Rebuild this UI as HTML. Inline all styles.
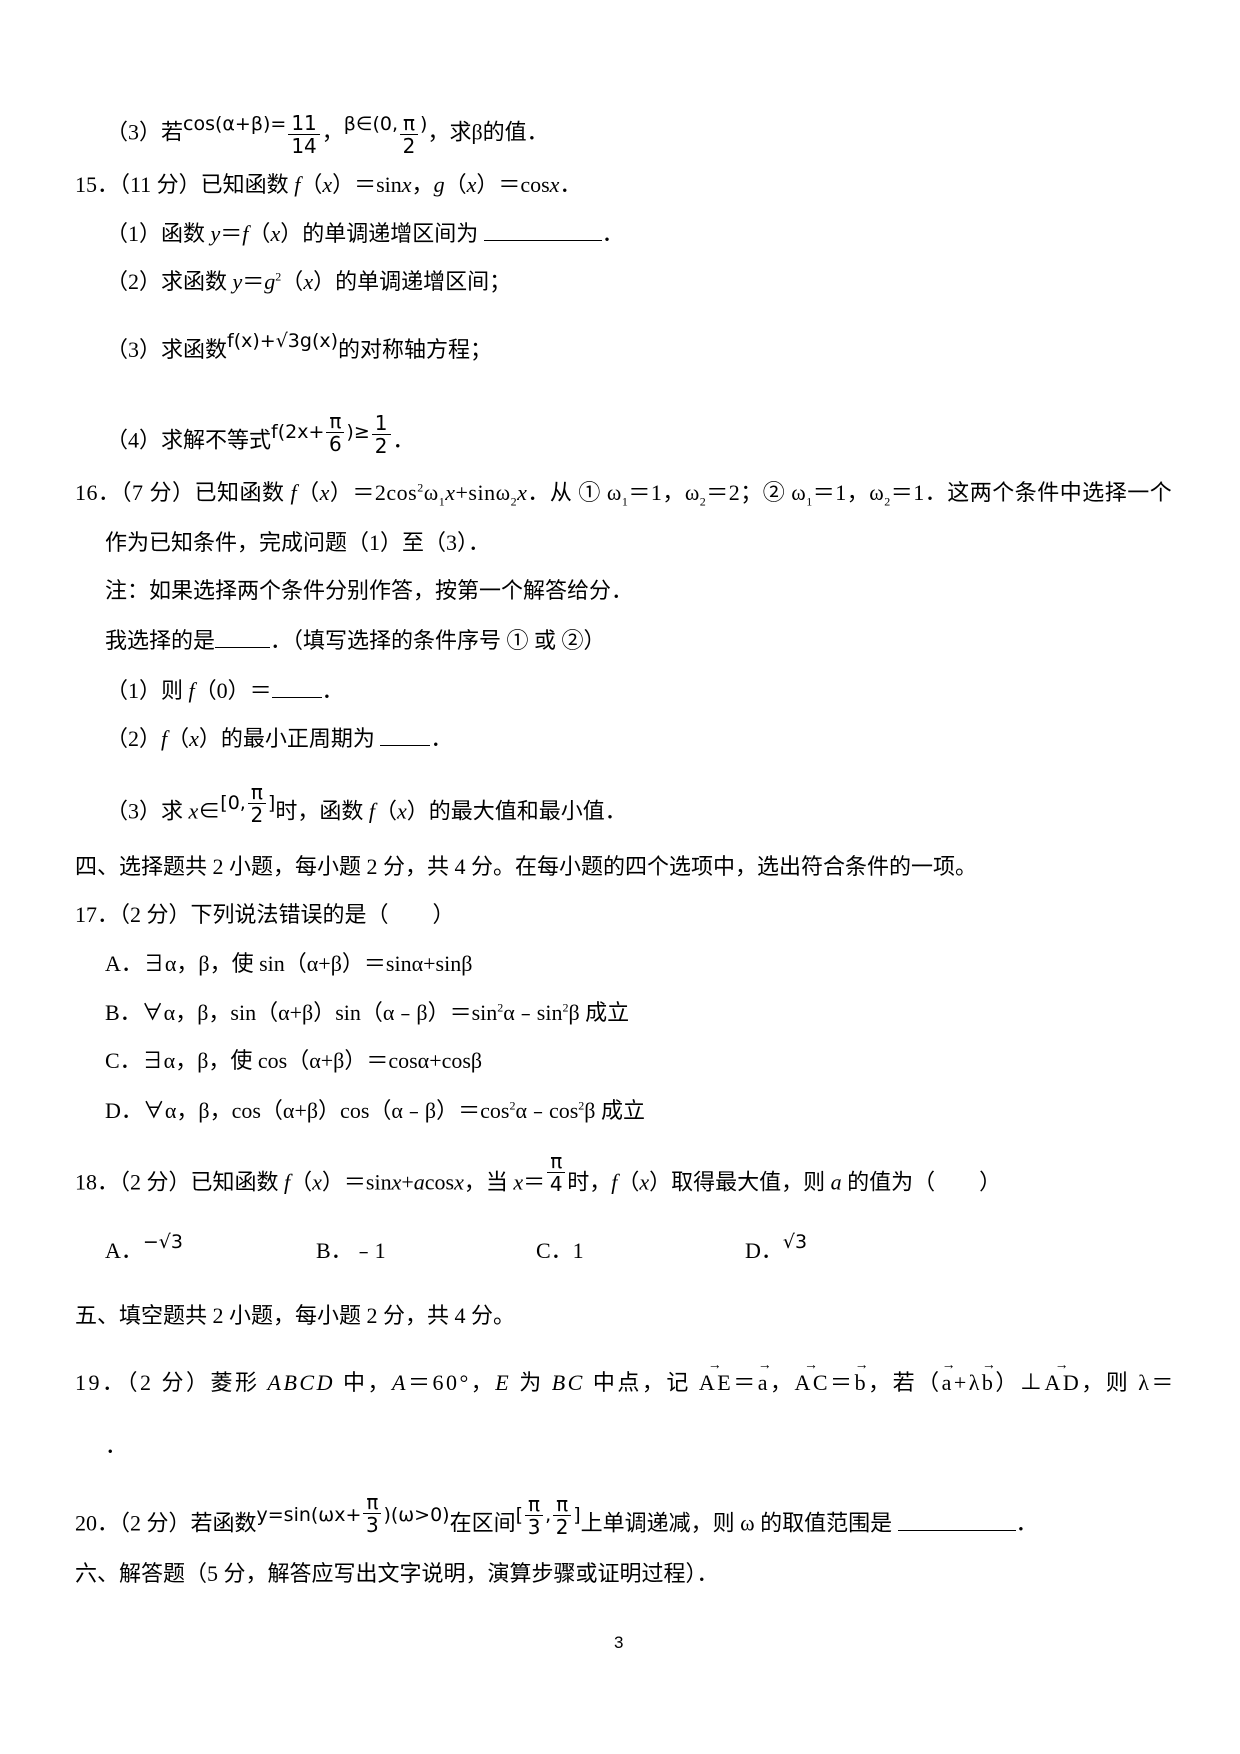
<!DOCTYPE html>
<html><head><meta charset="utf-8"><style>
body{margin:0;width:1240px;height:1754px;background:#fff;position:relative;font-family:"Liberation Serif","Noto Sans CJK SC",serif;font-size:22px;color:#000}
.l{position:absolute;white-space:nowrap;line-height:26px}
.fr{display:inline-block;vertical-align:middle;text-align:center;font-size:20px;line-height:22px;font-family:"DejaVu Sans",sans-serif;margin:0 2px}
.fr span{display:block}
.fr .n{border-bottom:1.5px solid #000;padding:0 3px}
.m{font-family:"DejaVu Sans",sans-serif;font-size:19px;position:relative;top:-10px}
i{font-style:italic}
sup,sub{line-height:0;font-size:12px}
.u{display:inline-block;border-bottom:1.5px solid #000;height:20px;vertical-align:baseline}
.v{position:relative;display:inline-block}
.v:before{content:"→";position:absolute;top:-17px;left:0;right:0;text-align:center;font-size:14px}
</style></head><body>
<div class="l" style="left:106px;top:112px">（3）若<span class="m">cos(α+β)=</span><span class="fr"><span class="n">11</span><span>14</span></span>，<span class="m">β∈(0,</span><span class="fr"><span class="n">π</span><span>2</span></span><span class="m">)</span>，求β的值．</div>
<div class="l" style="left:75px;top:172px">15．（11 分）已知函数 <i>f</i>（<i>x</i>）＝sin<i>x</i>，<i>g</i>（<i>x</i>）＝cos<i>x</i>．</div>
<div class="l" style="left:106px;top:220px">（1）函数 <i>y</i>＝<i>f</i>（<i>x</i>）的单调递增区间为 <span class="u" style="width:118px"></span>．</div>
<div class="l" style="left:106px;top:269px">（2）求函数 <i>y</i>＝<i>g</i><sup>2</sup>（<i>x</i>）的单调递增区间；</div>
<div class="l" style="left:106px;top:337px">（3）求函数<span class="m">f(x)+√3g(x)</span>的对称轴方程；</div>
<div class="l" style="left:106px;top:420px">（4）求解不等式<span class="m">f(2x+</span><span class="fr" style="position:relative;top:-10px"><span class="n">π</span><span>6</span></span><span class="m">)≥</span><span class="fr" style="position:relative;top:-8px"><span class="n">1</span><span>2</span></span>．</div>
<div class="l" style="left:75px;top:480px;letter-spacing:0.5px">16．（7 分）已知函数 <i>f</i>（<i>x</i>）＝2cos<sup>2</sup>ω<sub>1</sub><i>x</i>+sinω<sub>2</sub><i>x</i>．从 ① ω<sub>1</sub>＝1，ω<sub>2</sub>＝2；② ω<sub>1</sub>＝1，ω<sub>2</sub>＝1．这两个条件中选择一个</div>
<div class="l" style="left:105px;top:530px">作为已知条件，完成问题（1）至（3）．</div>
<div class="l" style="left:105px;top:578px">注：如果选择两个条件分别作答，按第一个解答给分．</div>
<div class="l" style="left:105px;top:627px">我选择的是<span class="u" style="width:55px"></span>．（填写选择的条件序号 ① 或 ②）</div>
<div class="l" style="left:106px;top:677px">（1）则 <i>f</i>（0）＝<span class="u" style="width:50px"></span>．</div>
<div class="l" style="left:106px;top:725px">（2）<i>f</i>（<i>x</i>）的最小正周期为 <span class="u" style="width:50px"></span>．</div>
<div class="l" style="left:106px;top:791px">（3）求 <i>x</i>∈<span class="m">[0,</span><span class="fr" style="position:relative;top:-10px"><span class="n">π</span><span>2</span></span><span class="m">]</span>时，函数 <i>f</i>（<i>x</i>）的最大值和最小值．</div>
<div class="l" style="left:75px;top:854px">四、选择题共 2 小题，每小题 2 分，共 4 分。在每小题的四个选项中，选出符合条件的一项。</div>
<div class="l" style="left:75px;top:902px">17．（2 分）下列说法错误的是（　　）</div>
<div class="l" style="left:105px;top:951px">A．∃α，β，使 sin（α+β）＝sinα+sinβ</div>
<div class="l" style="left:105px;top:1000px">B．∀α，β，sin（α+β）sin（α﹣β）＝sin<sup>2</sup>α﹣sin<sup>2</sup>β 成立</div>
<div class="l" style="left:105px;top:1048px">C．∃α，β，使 cos（α+β）＝cosα+cosβ</div>
<div class="l" style="left:105px;top:1098px">D．∀α，β，cos（α+β）cos（α﹣β）＝cos<sup>2</sup>α﹣cos<sup>2</sup>β 成立</div>
<div class="l" style="left:75px;top:1162px">18．（2 分）已知函数 <i>f</i>（<i>x</i>）＝sin<i>x</i>+<i>a</i>cos<i>x</i>，当 <i>x</i>＝<span class="fr" style="position:relative;top:-12px"><span class="n">π</span><span>4</span></span>时，<i>f</i>（<i>x</i>）取得最大值，则 <i>a</i> 的值为（　　）</div>
<div class="l" style="left:105px;top:1238px">A．<span class="m">−√3</span></div>
<div class="l" style="left:316px;top:1238px">B．﹣1</div>
<div class="l" style="left:536px;top:1238px">C．1</div>
<div class="l" style="left:745px;top:1238px">D．<span class="m">√3</span></div>
<div class="l" style="left:75px;top:1303px">五、填空题共 2 小题，每小题 2 分，共 4 分。</div>
<div class="l" style="left:75px;top:1370px;letter-spacing:2.5px">19．（2 分）菱形 <i>ABCD</i> 中，<i>A</i>＝60°，<i>E</i> 为 <i>BC</i> 中点，记 <span class="v">AE</span>＝<span class="v">a</span>，<span class="v">AC</span>＝<span class="v">b</span>，若（<span class="v">a</span>+λ<span class="v">b</span>）⊥<span class="v">AD</span>，则 λ＝</div>
<div class="l" style="left:105px;top:1433px">．</div>
<div class="l" style="left:75px;top:1503px">20．（2 分）若函数<span class="m">y=sin(ωx+</span><span class="fr" style="position:relative;top:-12px"><span class="n">π</span><span>3</span></span><span class="m">)(ω&gt;0)</span>在区间<span class="m">[</span><span class="fr" style="position:relative;top:-10px"><span class="n">π</span><span>3</span></span><span class="m">,</span><span class="fr" style="position:relative;top:-10px"><span class="n">π</span><span>2</span></span><span class="m">]</span>上单调递减，则 ω 的取值范围是 <span class="u" style="width:118px"></span>．</div>
<div class="l" style="left:75px;top:1561px">六、解答题（5 分，解答应写出文字说明，演算步骤或证明过程）．</div>
<div class="l" style="left:614px;top:1630px;font-family:'Liberation Sans',sans-serif;font-size:17px">3</div>
</body></html>
